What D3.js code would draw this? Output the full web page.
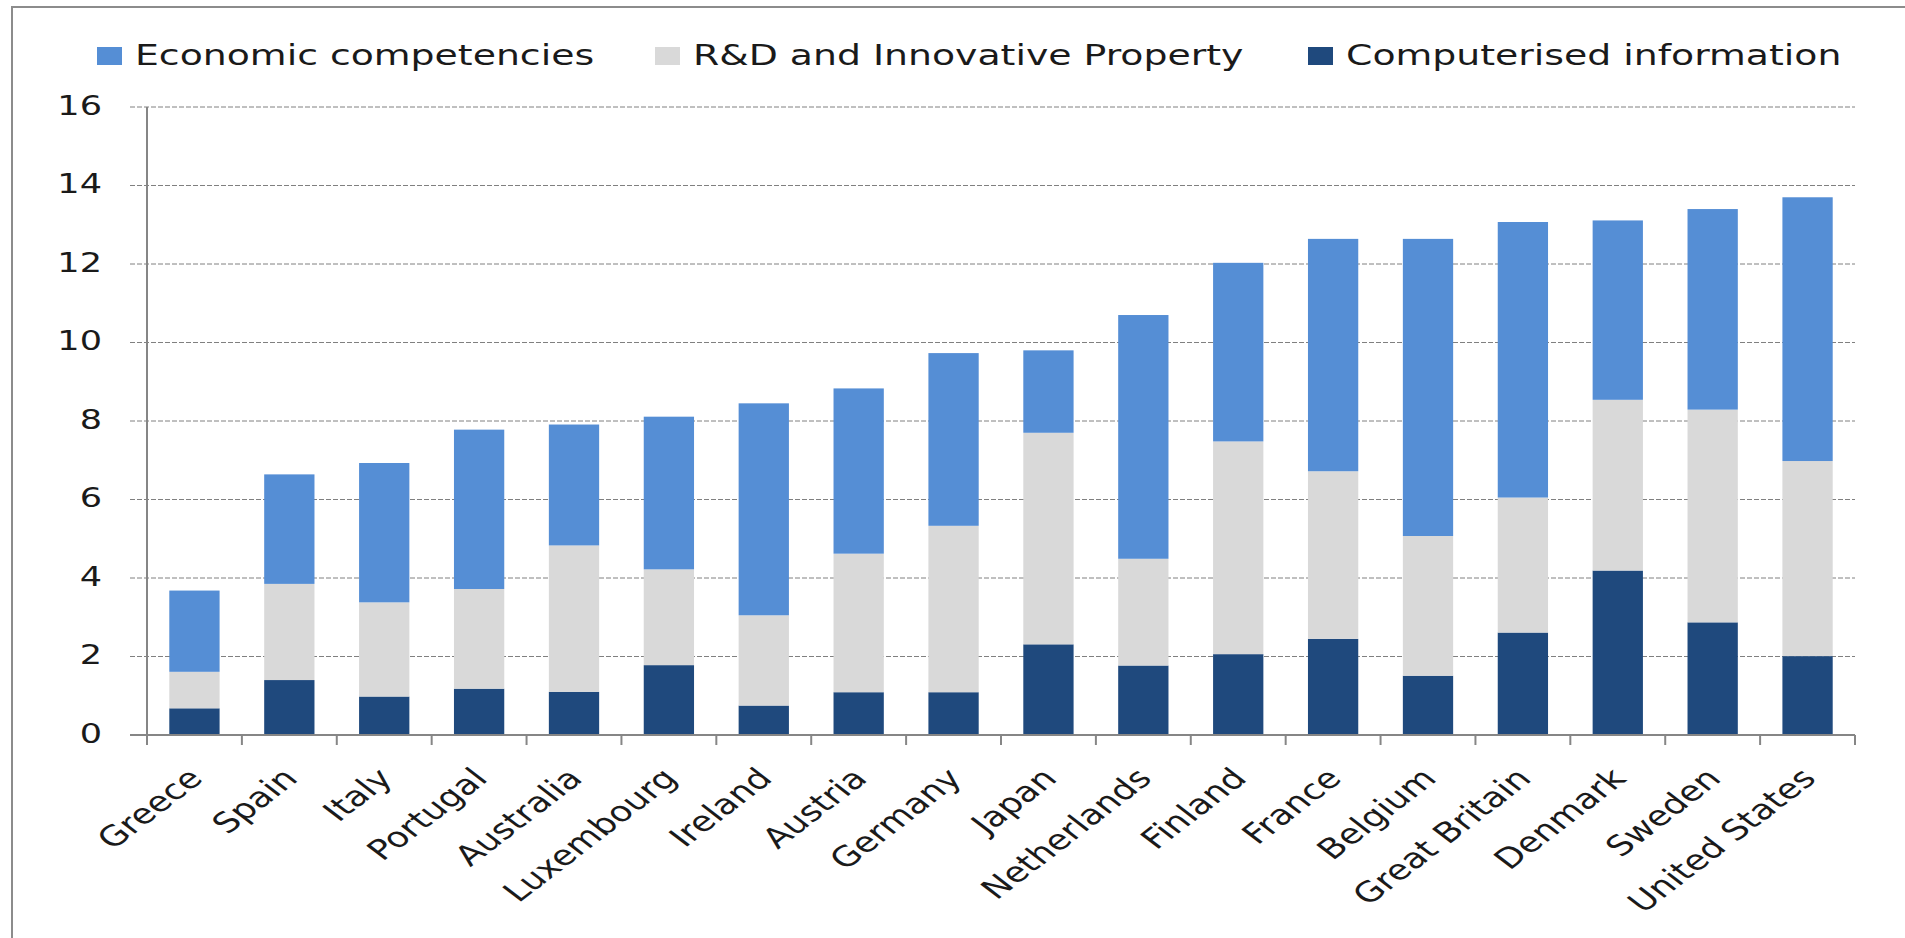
<!DOCTYPE html>
<html>
<head>
<meta charset="utf-8">
<script src="https://cdn.jsdelivr.net/npm/d3@7"></script>
<style>
  body { margin: 0; background: #fff; }
  text { font-family: "DejaVu Sans", Verdana, sans-serif; fill: #1a1a1a; }
</style>
</head>
<body>
<div id="chart"></div>
<script>
// Intangible investment by type, % of GDP
const countries = ["Greece", "Spain", "Italy", "Portugal", "Australia", "Luxembourg",
  "Ireland", "Austria", "Germany", "Japan", "Netherlands", "Finland", "France",
  "Belgium", "Great Britain", "Denmark", "Sweden", "United States"];
const computerised = [0.68, 1.40, 0.98, 1.18, 1.10, 1.78, 0.75, 1.09, 1.09, 2.31,
  1.77, 2.06, 2.45, 1.51, 2.61, 4.19, 2.87, 2.01];
const rdInnovative = [0.93, 2.45, 2.40, 2.54, 3.73, 2.44, 2.30, 3.53, 4.24, 5.39,
  2.72, 5.42, 4.27, 3.56, 3.44, 4.35, 5.42, 4.97];
const economic = [2.07, 2.79, 3.55, 4.06, 3.08, 3.89, 5.40, 4.21, 4.40, 2.10,
  6.21, 4.55, 5.92, 7.57, 7.02, 4.57, 5.11, 6.72];
const yTicks = [0, 2, 4, 6, 8, 10, 12, 14, 16];

const seriesNames = ["Economic competencies", "R&D and Innovative Property", "Computerised information"];
const colors = {
  "Economic competencies": "#558ed5",
  "R&D and Innovative Property": "#d9d9d9",
  "Computerised information": "#1f497d"
};

const svgWidth = 1905;
const svgHeight = 938;
const plot = { left: 147, right: 1855, top: 107, bottom: 735 };
const stretch = 1.3; // the source image is widened, text included

const svg = d3.select("#chart").append("svg")
  .attr("width", svgWidth)
  .attr("height", svgHeight);

// outer frame
svg.append("rect")
  .attr("x", 12).attr("y", 7)
  .attr("width", svgWidth).attr("height", svgHeight)
  .attr("fill", "none")
  .attr("stroke", "#8c8c8c")
  .attr("stroke-width", 2);

const rows = countries.map((c, i) => ({
  country: c,
  "Computerised information": computerised[i],
  "R&D and Innovative Property": rdInnovative[i],
  "Economic competencies": economic[i]
}));

const x = d3.scaleBand()
  .domain(countries)
  .range([plot.left, plot.right])
  .paddingInner(0.47)
  .paddingOuter(0.235);

const y = d3.scaleLinear()
  .domain([0, 16])
  .range([plot.bottom, plot.top]);

// gridlines
svg.append("g")
  .selectAll("line")
  .data(yTicks.filter(d => d > 0))
  .join("line")
  .attr("x1", plot.left - 17)
  .attr("x2", plot.right)
  .attr("y1", d => y(d))
  .attr("y2", d => y(d))
  .attr("stroke", "#808080")
  .attr("stroke-width", 1)
  .attr("stroke-dasharray", "5,2");

// stacked bars
const stack = d3.stack()
  .keys(["Computerised information", "R&D and Innovative Property", "Economic competencies"]);

svg.append("g")
  .selectAll("g")
  .data(stack(rows))
  .join("g")
  .attr("fill", d => colors[d.key])
  .selectAll("rect")
  .data(d => d)
  .join("rect")
  .attr("x", d => x(d.data.country))
  .attr("width", x.bandwidth())
  .attr("y", d => y(d[1]))
  .attr("height", d => y(d[0]) - y(d[1]));

// y axis
const yAxis = svg.append("g")
  .attr("transform", `translate(${plot.left},0)`)
  .call(d3.axisLeft(y).tickValues(yTicks).tickSize(0).tickFormat(d3.format("d")));
yAxis.select(".domain").remove();
yAxis.append("line")
  .attr("x1", 0).attr("x2", 0)
  .attr("y1", plot.top).attr("y2", plot.bottom + 10)
  .attr("stroke", "#868686").attr("stroke-width", 2);
yAxis.selectAll(".tick text")
  .attr("x", null).attr("dy", null)
  .attr("text-anchor", "end")
  .attr("dominant-baseline", "central")
  .attr("transform", `translate(-45,-2) scale(${stretch},1)`)
  .style("font-size", "27px")
  .style("font-family", "'DejaVu Sans', Verdana, sans-serif")
  .style("fill", "#1a1a1a");

// x axis baseline and category ticks
svg.append("line")
  .attr("x1", plot.left - 17).attr("x2", plot.right)
  .attr("y1", plot.bottom).attr("y2", plot.bottom)
  .attr("stroke", "#868686").attr("stroke-width", 2);

const step = x.step();
svg.append("g")
  .selectAll("line")
  .data(d3.range(countries.length + 1))
  .join("line")
  .attr("x1", i => plot.left + i * step)
  .attr("x2", i => plot.left + i * step)
  .attr("y1", plot.bottom)
  .attr("y2", plot.bottom + 10)
  .attr("stroke", "#868686").attr("stroke-width", 2);

// rotated category labels
svg.append("g")
  .selectAll("text")
  .data(countries)
  .join("text")
  .attr("text-anchor", "end")
  .attr("transform", d => {
    const cx = x(d) + x.bandwidth() / 2;
    return `translate(${cx + 10},${plot.bottom + 45}) scale(${stretch},1) rotate(-45)`;
  })
  .style("font-size", "28px")
  .text(d => d);

// legend
const legendX = [97, 655, 1308];
const legend = svg.append("g")
  .selectAll("g")
  .data(seriesNames)
  .join("g")
  .attr("transform", (d, i) => `translate(${legendX[i]},47)`);

legend.append("rect")
  .attr("width", 25)
  .attr("height", 18)
  .attr("fill", d => colors[d]);

legend.append("text")
  .attr("transform", `translate(38,18) scale(1.35,1)`)
  .style("font-size", "28px")
  .text(d => d);
</script>
</body>
</html>
